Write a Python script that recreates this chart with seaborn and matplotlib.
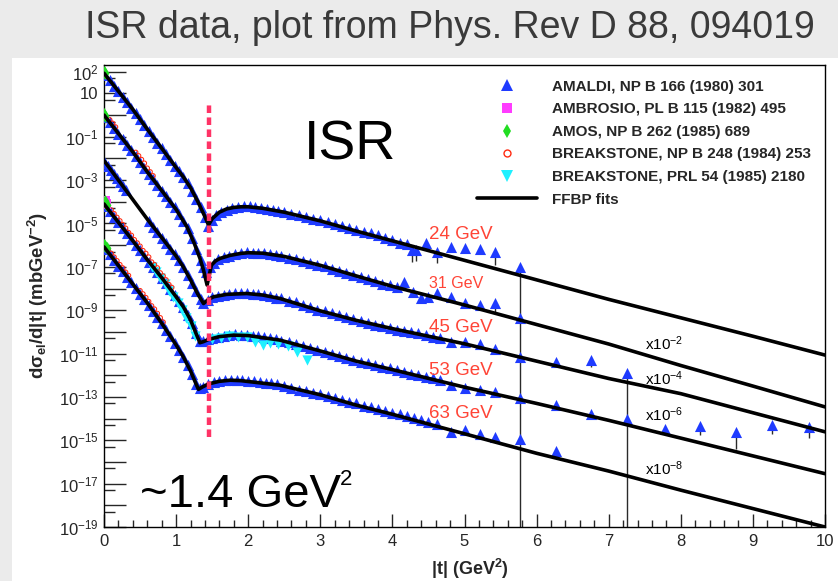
import matplotlib
matplotlib.use("Agg")
import numpy as np
import pandas as pd
import matplotlib.pyplot as plt
import seaborn as sns
from matplotlib.lines import Line2D
from matplotlib.patches import Rectangle
from matplotlib.ticker import FixedLocator, FixedFormatter, NullFormatter
from matplotlib.font_manager import FontProperties

sns.set_style("ticks")
plt.rcParams["font.family"] = ["Liberation Sans", "DejaVu Sans"]
plt.rcParams["mathtext.fontset"] = "custom"
plt.rcParams["mathtext.rm"] = "Liberation Sans"
plt.rcParams["mathtext.it"] = "Liberation Sans:italic"
plt.rcParams["mathtext.bf"] = "Liberation Sans:bold"

# ---------------- data (values are log10 of dsigma/d|t|, already scaled) ----------------
# AMALDI (blue triangles)
T24 = [0.02,0.08,0.14,0.20,0.26,0.32,0.38,0.44,0.50,0.56,0.62,0.68,0.74,0.80,0.86,0.92,0.98,1.04,1.10,1.16,1.22,1.28,1.34,1.40,1.44,
       1.50,1.56,1.62,1.70,1.78,1.86,1.94,2.02,2.10,2.18,2.26,2.34,2.42,2.50,2.60,2.70,2.80,2.90,3.00,3.10,3.20,3.30,3.40,3.50,3.60,3.70,3.80,3.90,4.00,4.10,4.20,
       4.27,4.33,4.46,4.62,4.81,5.01,5.22,5.42,5.77]
E24 = [1.85,1.60,1.35,1.10,0.85,0.60,0.34,0.08,-0.19,-0.47,-0.74,-1.00,-1.27,-1.53,-1.80,-2.06,-2.33,-2.59,-2.85,-3.15,-3.48,-3.85,-4.26,-4.69,-5.10,
       -4.82,-4.60,-4.46,-4.36,-4.28,-4.22,-4.20,-4.20,-4.25,-4.28,-4.32,-4.38,-4.43,-4.46,-4.55,-4.62,-4.70,-4.78,-4.85,-4.95,-5.02,-5.12,-5.20,-5.30,-5.40,-5.45,-5.55,-5.66,-5.75,-5.88,-5.95,
       -6.23,-6.23,-5.90,-6.30,-6.07,-6.15,-6.19,-6.31,-7.00]

T31 = [0.02,0.08,0.14,0.20,0.26,0.32,0.38,0.44,0.50,0.56,0.62,0.68,0.74,0.80,0.86,0.92,0.98,1.04,1.10,1.16,1.22,1.28,1.34,1.38,1.42,
       1.47,1.52,1.58,1.66,1.74,1.82,1.90,1.98,2.06,2.14,2.22,2.30,2.38,2.46,2.56,2.66,2.76,2.86,2.96,3.06,3.16,3.26,3.36,3.46,3.56,3.66,3.76,3.86,3.96,4.06,
       4.16,4.28,4.39,4.50,4.62,4.81,5.01,5.22,5.42,5.77]
E31 = [-0.08,-0.34,-0.60,-0.85,-1.11,-1.36,-1.62,-1.88,-2.16,-2.44,-2.71,-2.96,-3.22,-3.48,-3.74,-4.00,-4.26,-4.56,-4.88,-5.22,-5.67,-6.16,-6.70,-7.00,-7.25,
       -7.00,-6.80,-6.66,-6.56,-6.48,-6.42,-6.38,-6.33,-6.34,-6.36,-6.38,-6.42,-6.46,-6.50,-6.58,-6.66,-6.74,-6.82,-6.90,-6.98,-7.08,-7.17,-7.27,-7.37,-7.47,-7.58,-7.66,-7.77,-7.86,-7.95,
       -7.69,-8.15,-8.46,-8.40,-8.20,-8.38,-8.69,-8.77,-8.69,-9.38]

T45 = [0.02,0.06,0.10,0.14,0.18,0.22,0.26,0.30,
       0.62,0.68,0.74,0.80,0.86,0.92,0.98,1.04,1.10,1.16,1.22,1.28,1.34,1.38,
       1.44,1.50,1.58,1.66,1.74,1.82,1.90,1.98,2.06,2.14,2.22,2.30,2.38,2.46,2.56,2.66,2.76,2.86,2.96,3.06,3.16,3.26,3.36,3.46,3.56,3.66,3.76,3.86,3.96,4.06,4.16,4.26,4.36,4.46,4.56,4.66,
       4.81,5.01,5.22,5.42,5.77,6.27,6.76,7.26]
E45 = [-2.19,-2.37,-2.55,-2.73,-2.91,-3.09,-3.27,-3.45,
       -4.88,-5.14,-5.40,-5.65,-5.91,-6.16,-6.42,-6.70,-7.00,-7.36,-7.73,-8.12,-8.47,-8.65,
       -8.52,-8.40,-8.33,-8.28,-8.25,-8.22,-8.20,-8.20,-8.24,-8.26,-8.30,-8.35,-8.42,-8.46,-8.56,-8.64,-8.76,-8.86,-8.98,-9.05,-9.14,-9.24,-9.33,-9.42,-9.52,-9.58,-9.66,-9.74,-9.80,-9.90,-9.95,-10.02,-10.06,-10.16,-10.22,-10.30,
       -10.46,-10.46,-10.57,-10.81,-11.15,-11.38,-11.30,-11.90]

T53 = [0.02,0.08,0.14,0.20,0.26,0.32,0.38,0.44,0.50,0.56,0.62,0.68,0.74,0.80,0.86,0.92,0.98,1.04,1.10,1.16,1.22,1.28,1.33,
       1.38,1.44,1.50,1.58,1.66,1.74,1.82,1.90,1.98,2.06,2.14,2.22,2.30,2.38,2.46,2.56,2.66,2.76,2.86,2.96,3.06,3.16,3.26,3.36,3.46,3.56,3.66,3.76,3.86,3.96,4.06,4.16,4.26,4.36,4.46,4.56,4.66,
       4.81,5.01,5.22,5.42,5.77,6.27,6.76,7.26,7.78,8.27,8.77,9.27,9.78]
E53 = [-4.19,-4.44,-4.70,-4.95,-5.20,-5.46,-5.71,-5.97,-6.24,-6.50,-6.76,-7.00,-7.25,-7.50,-7.76,-8.03,-8.29,-8.56,-8.84,-9.20,-9.60,-10.05,-10.40,
       -10.42,-10.35,-10.28,-10.22,-10.18,-10.15,-10.12,-10.14,-10.15,-10.18,-10.20,-10.25,-10.30,-10.34,-10.40,-10.48,-10.56,-10.66,-10.75,-10.83,-10.93,-11.02,-11.10,-11.20,-11.28,-11.38,-11.44,-11.52,-11.60,-11.68,-11.76,-11.84,-11.92,-12.00,-12.08,-12.14,-12.22,
       -12.46,-12.61,-12.66,-12.77,-13.07,-13.38,-13.77,-14.00,-14.50,-14.35,-14.61,-14.30,-14.41]

T63 = [0.02,0.08,0.14,0.20,0.26,0.32,0.38,0.44,0.50,0.56,0.62,0.68,0.74,0.80,0.86,0.92,0.98,1.04,1.10,1.16,1.22,1.28,
       1.33,1.38,1.44,1.52,1.60,1.68,1.76,1.84,1.92,2.00,2.08,2.16,2.24,2.32,2.40,2.50,2.60,2.70,2.80,2.90,3.00,3.10,3.20,3.30,3.40,3.50,3.60,3.70,3.80,3.90,4.00,4.10,4.20,4.30,4.40,4.50,4.62,
       4.81,5.01,5.22,5.42,5.77,6.27]
E63 = [-6.17,-6.42,-6.68,-6.94,-7.20,-7.46,-7.71,-7.97,-8.23,-8.49,-8.76,-9.04,-9.32,-9.60,-9.90,-10.20,-10.50,-10.82,-11.15,-11.54,-11.95,-12.40,
       -12.60,-12.52,-12.42,-12.33,-12.27,-12.24,-12.20,-12.20,-12.23,-12.25,-12.28,-12.30,-12.35,-12.38,-12.42,-12.50,-12.58,-12.66,-12.72,-12.80,-12.88,-12.96,-13.05,-13.13,-13.22,-13.30,-13.40,-13.47,-13.56,-13.64,-13.72,-13.80,-13.88,-13.98,-14.06,-14.16,-14.26,
       -14.60,-14.53,-14.72,-14.84,-14.92,-15.49]

# AMBROSIO (magenta squares), AMOS (green diamonds)
AMB_T = [0.01, 0.03]
AMB_E = [-3.98, -4.08]
AMOS_T = [0.005, 0.02, 0.005, 0.02, 0.01, 0.025, 0.04, 0.005, 0.02, 0.035]
AMOS_E = [2.00, 1.93, 0.03, -0.04, -3.98, -4.08, -4.17, -5.98, -6.05, -6.13]

# BREAKSTONE NP B 248 (red open circles)
R31_T = [0.08,0.12,0.16,0.44,0.48,0.52,0.56,0.60,0.64,0.68]
R31_E = [-0.22,-0.38,-0.55,-1.72,-1.88,-2.05,-2.22,-2.45,-2.62,-2.80]
R53_T = [0.10,0.14,0.18,0.22,0.26,0.30,0.34,0.38,0.42,0.46,0.50,0.54,0.58,0.62,0.66,0.70,0.74,0.78,0.82,0.86,0.90,0.94]
R53_E = [-4.38,-4.55,-4.72,-4.88,-5.05,-5.22,-5.42,-5.55,-5.75,-5.90,-6.05,-6.25,-6.38,-6.55,-6.78,-6.90,-7.05,-7.28,-7.42,-7.60,-7.82,-7.95]
R63_T = [0.06,0.10,0.14,0.18,0.22,0.26,0.30,0.34,0.50,0.54,0.58,0.62,0.66,0.70,0.74,0.78,0.82]
R63_E = [-6.20,-6.38,-6.55,-6.72,-6.90,-7.05,-7.25,-7.40,-8.10,-8.25,-8.42,-8.60,-8.80,-8.95,-9.15,-9.35,-9.55]

# BREAKSTONE PRL 54 (cyan inverted triangles)
CY_T = [0.66,0.72,0.78,0.84,0.90,0.96,1.02,1.08,1.14,1.20,1.26,1.50,1.62,1.74,1.86,1.98,2.10,2.20,2.30,2.42,2.55,2.68,2.82]
CY_E = [-7.00,-7.25,-7.52,-7.80,-8.10,-8.38,-8.68,-9.00,-9.35,-9.75,-10.20,-10.35,-10.28,-10.20,-10.22,-10.25,-10.45,-10.60,-10.50,-10.55,-10.65,-10.95,-11.30]

# error bars (t, upper end, lower end)
ERR_T = [4.27, 4.33, 4.62, 5.42, 5.77, 7.26, 8.27, 8.77, 9.27, 9.78, 5.42, 6.76]
ERR_HI = [-6.23, -6.23, -6.30, -6.31, -7.00, -11.90, -14.35, -14.61, -14.30, -14.41, -8.69, -11.30]
ERR_LO = [-6.77, -6.75, -6.84, -6.92, -19.00, -19.00, -14.75, -15.40, -14.70, -14.90, -9.10, -11.60]

# FFBP fits
F24_T = [0, 0.2, 0.4, 0.6, 0.8, 1.0, 1.1, 1.2, 1.3, 1.4, 1.45, 1.5, 1.6, 1.7, 1.8, 1.9, 2.0, 2.2, 2.5, 3.0, 3.5, 4.0, 5.0, 6.0, 7.0, 8.0, 9.0, 10.0]
F24_E = [1.93, 1.10, 0.26, -0.65, -1.53, -2.42, -2.85, -3.35, -3.98, -4.69, -5.07, -4.78, -4.48, -4.33, -4.26, -4.23, -4.23, -4.30, -4.48, -4.88, -5.35, -5.80, -6.70, -7.60, -8.50, -9.35, -10.20, -11.07]
F31_T = [0, 0.2, 0.4, 0.6, 0.8, 1.0, 1.15, 1.25, 1.33, 1.38, 1.43, 1.49, 1.55, 1.61, 1.75, 1.9, 2.0, 2.2, 2.5, 3.0, 3.5, 4.0, 5.0, 6.0, 7.0, 8.0, 9.0, 10.0]
F31_E = [0.0, -0.85, -1.70, -2.62, -3.48, -4.35, -5.15, -5.90, -6.60, -7.15, -7.84, -6.92, -6.72, -6.61, -6.47, -6.38, -6.35, -6.37, -6.52, -6.93, -7.42, -7.90, -8.76, -9.66, -10.56, -11.55, -12.50, -13.46]
F45_T = [0, 0.2, 0.4, 0.6, 0.8, 1.0, 1.1, 1.2, 1.3, 1.38, 1.45, 1.52, 1.7, 1.98, 2.2, 2.44, 3.0, 3.5, 4.0, 5.0, 6.0, 7.0, 8.0, 9.0, 10.0]
F45_E = [-2.1, -3.0, -3.9, -4.8, -5.65, -6.5, -7.0, -7.6, -8.25, -8.69, -8.5, -8.38, -8.27, -8.23, -8.3, -8.46, -9.03, -9.47, -9.85, -10.55, -11.35, -12.15, -12.85, -13.73, -14.61]
F53_T = [0, 0.2, 0.4, 0.6, 0.8, 1.0, 1.1, 1.2, 1.28, 1.33, 1.38, 1.45, 1.6, 1.8, 2.0, 2.44, 3.0, 3.5, 4.0, 5.0, 6.0, 7.0, 8.0, 9.0, 10.0]
F53_E = [-4.1, -4.95, -5.8, -6.67, -7.5, -8.38, -8.84, -9.45, -10.1, -10.5, -10.45, -10.35, -10.22, -10.15, -10.17, -10.38, -10.88, -11.35, -11.74, -12.55, -13.3, -14.08, -14.9, -15.72, -16.54]
F63_T = [0, 0.2, 0.4, 0.6, 0.8, 1.0, 1.1, 1.2, 1.27, 1.31, 1.36, 1.45, 1.6, 1.75, 1.9, 2.44, 3.0, 3.5, 4.0, 5.0, 6.0, 7.0, 8.0, 9.0, 10.0]
F63_E = [-6.08, -6.94, -7.8, -8.66, -9.6, -10.6, -11.15, -11.8, -12.35, -12.65, -12.55, -12.4, -12.28, -12.23, -12.25, -12.46, -12.9, -13.38, -13.8, -14.7, -15.6, -16.42, -17.3, -18.15, -19.0]

ENERGY_LABELS = ["24 GeV", "31 GeV", "45 GeV", "53 GeV", "63 GeV"]
SCALE_LABELS = ["x10$^{-2}$", "x10$^{-4}$", "x10$^{-6}$", "x10$^{-8}$"]
LEGEND_LABELS = ["AMALDI, NP B 166 (1980) 301", "AMBROSIO, PL B 115 (1982) 495",
                 "AMOS, NP B 262 (1985) 689", "BREAKSTONE, NP B 248 (1984) 253",
                 "BREAKSTONE, PRL 54 (1985) 2180", "FFBP fits"]
DIP_T = 1.45

BLUE = "#1f3bff"
MAGENTA = "#ff3cff"
GREEN = "#22dd22"
RED = "#ff2a10"
CYAN = "#1ef0ff"
LABEL_RED = "#ff4436"

# ---------------- tables ----------------
blue = pd.concat([pd.DataFrame({"t": t, "v": np.power(10.0, e), "set": k})
                  for k, (t, e) in enumerate([(T24, E24), (T31, E31), (T45, E45), (T53, E53), (T63, E63)])])
fits = pd.concat([pd.DataFrame({"t": t, "v": np.power(10.0, e), "set": k})
                  for k, (t, e) in enumerate([(F24_T, F24_E), (F31_T, F31_E), (F45_T, F45_E), (F53_T, F53_E), (F63_T, F63_E)])])
red = pd.DataFrame({"t": R31_T + R53_T + R63_T, "v": np.power(10.0, R31_E + R53_E + R63_E)})

# ---------------- figure ----------------
fig = plt.figure(figsize=(8.38, 5.81), dpi=100, facecolor="#ebebeb")
fig.patches.append(Rectangle((12 / 838, 0), 1, 1 - 58 / 581, transform=fig.transFigure,
                             facecolor="white", edgecolor="none", zorder=-5))
fig.text(85 / 838, 1 - 37.5 / 581, "ISR data, plot from Phys. Rev D 88, 094019",
         fontsize=27.0, color="#3a3a3a", ha="left", va="baseline", family="Liberation Sans")

ax = fig.add_axes([104 / 838, 1 - 527 / 581, 721 / 838, 462 / 581])
ax.set_zorder(2)
ax.set_facecolor("white")
ax.set_yscale("log")
ax.set_xlim(0, 10)
ax.set_ylim(1e-19, 10 ** 2.31)

# error bars
ax.vlines(ERR_T, np.power(10.0, ERR_LO), np.power(10.0, ERR_HI), colors="#2a2a2a", lw=1.0, zorder=2)

sns.scatterplot(data=blue, x="t", y="v", marker="^", s=64, color=BLUE, linewidth=0, ax=ax, legend=False, zorder=3)
sns.scatterplot(x=CY_T, y=np.power(10.0, CY_E), marker="v", s=54, color=CYAN, linewidth=0, ax=ax, legend=False, zorder=3)
sns.scatterplot(data=red, x="t", y="v", marker="o", s=10, facecolors="none", edgecolor=RED, linewidth=0.75, ax=ax, legend=False, zorder=3)
sns.scatterplot(x=AMB_T, y=np.power(10.0, AMB_E), marker="s", s=60, color=MAGENTA, linewidth=0, ax=ax, legend=False, zorder=3)
sns.scatterplot(x=AMOS_T, y=np.power(10.0, AMOS_E), marker="d", s=44, color=GREEN, linewidth=0, ax=ax, legend=False, zorder=3)

sns.lineplot(data=fits, x="t", y="v", units="set", estimator=None, sort=False, color="black", lw=2.6, ax=ax, legend=False, zorder=4)

ax.vlines([DIP_T], 10 ** -14.86, 10 ** 0.556, colors="#ff3366", lw=3.2, linestyles=(0, (1.7, 1.0)), zorder=5)

# texts
ax.text(2.77, 10 ** -2.07, "ISR", fontsize=40, ha="left", va="baseline", color="black")
main_txt = ax.text(0.50, 10 ** -18.09, "~1.4 GeV", fontsize=34, ha="left", va="baseline", color="black")
ax.annotate("2", xy=(1, 1), xycoords=main_txt, xytext=(-0.5, 3), textcoords="offset points",
            fontsize=16, ha="left", va="top", color="black")
for lab, e, fs in zip(ENERGY_LABELS, [-5.73, -7.99, -10.02, -12.0, -13.98], [13.5, 11.5, 13.5, 13.5, 13.5]):
    ax.text(4.51, 10 ** e, lab, fontsize=fs, color=LABEL_RED, ha="left", va="baseline")
for lab, e in zip(SCALE_LABELS, [-10.84, -12.45, -14.12, -16.6]):
    ax.text(7.51, 10 ** e, lab, fontsize=11, color="black", ha="left", va="baseline")

# axes styling
exps = list(range(2, -20, -1))
ylabels = []
for e in exps:
    if e == 2 or (e < 0 and e % 2 == 1):
        ylabels.append(r"$\mathregular{10^{%d}}$" % e)
    elif e == 1:
        ylabels.append("10")
    else:
        ylabels.append("")
ax.yaxis.set_major_locator(FixedLocator([10.0 ** e for e in exps]))
ax.yaxis.set_major_formatter(FixedFormatter(ylabels))
ax.yaxis.set_minor_locator(FixedLocator([5 * 10.0 ** e for e in range(-20, 2)]))
ax.yaxis.set_minor_formatter(NullFormatter())
ax.set_xticks(range(0, 11))
ax.set_xticklabels([str(i) for i in range(0, 11)])
ax.set_xticks([i * 0.2 for i in range(51)], minor=True)

ax.tick_params(axis="y", which="major", direction="in", length=15.8, width=1.0, labelsize=12, pad=4)
ax.tick_params(axis="y", which="minor", direction="in", length=8, width=1.0)
ax.tick_params(axis="x", which="major", direction="in", length=9.5, width=1.0, labelsize=12, pad=5)
ax.tick_params(axis="x", which="minor", direction="in", length=5, width=1.0)
for sp in ax.spines.values():
    sp.set_color("black")
    sp.set_linewidth(1.0)

ax.set_xlabel("|t| (GeV$^{\\mathbf{2}}$)", fontsize=13, fontweight="bold")
ax.xaxis.set_label_coords(0.508, -0.065)
ax.set_ylabel("dσ$_{\\mathbf{el}}$/d|t| (mbGeV$^{\\mathbf{-2}}$)", fontsize=13.3, fontweight="bold")
ax.yaxis.set_label_coords(-0.075, 0.502)

handles = [
    Line2D([], [], marker="^", ls="", color=BLUE, ms=8, mew=0),
    Line2D([], [], marker="s", ls="", color=MAGENTA, ms=7.5, mew=0),
    Line2D([], [], marker="d", ls="", color=GREEN, ms=7.5, mew=0),
    Line2D([], [], marker="o", ls="", mfc="none", mec=RED, ms=5, mew=1.0),
    Line2D([], [], marker="v", ls="", color=CYAN, ms=8, mew=0),
    Line2D([], [], color="black", lw=2.6),
]
ax.legend(handles, LEGEND_LABELS, loc="upper left", bbox_to_anchor=(0.517, 0.968), frameon=False,
          prop=FontProperties(family="Liberation Sans", weight="bold", size=11),
          handlelength=3.97, handletextpad=0.96, labelspacing=0.56, borderpad=0, borderaxespad=0, numpoints=1)

fig.savefig("out.png", dpi=100, facecolor=fig.get_facecolor())
